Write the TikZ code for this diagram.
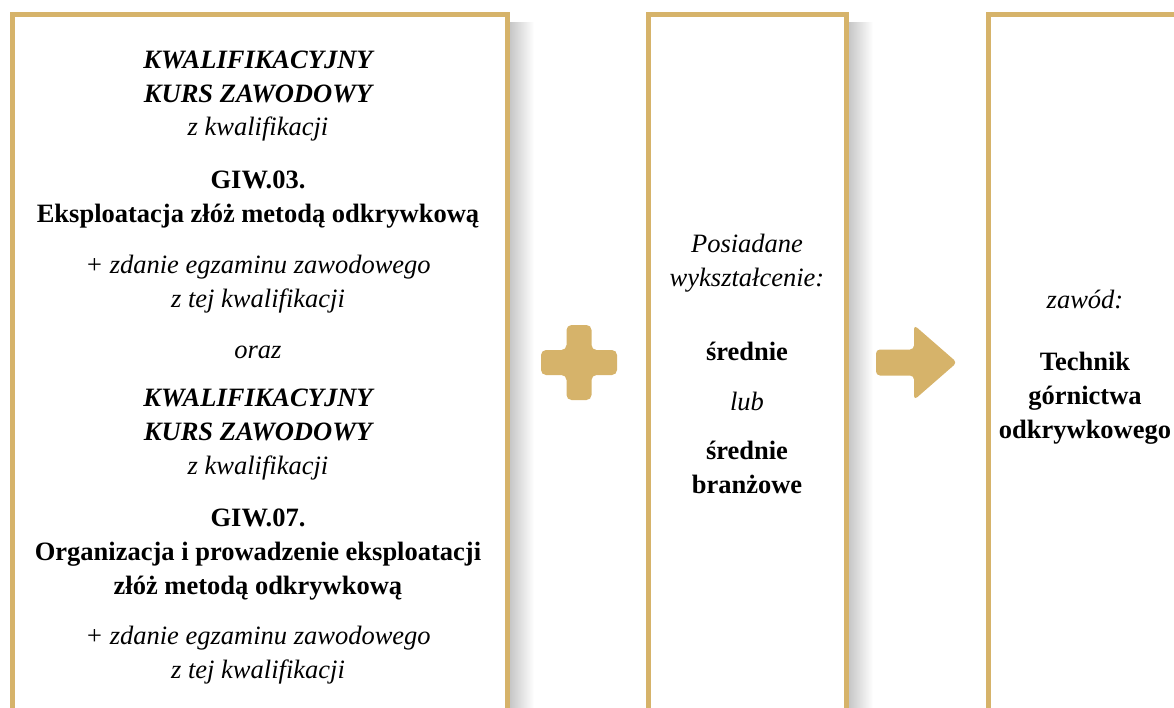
\documentclass[tikz,border=0pt]{standalone}
\usepackage{fontspec}
\setmainfont{Liberation Serif}
\usepackage{tikz}
\definecolor{zloty}{RGB}{214,179,106}
\newcommand{\rozmiar}{\fontsize{26.5}{34}\selectfont}

\begin{document}
\begin{tikzpicture}[x=1pt, y=-1pt,
  ramka/.style={draw=zloty, line width=5pt, fill=white},
  cien/.style={left color=black!22, right color=white, draw=none},
  tekst/.style={align=center, anchor=base, inner sep=0pt, font=\rozmiar\itshape},
  kurs/.style={tekst, font=\rozmiar\bfseries\itshape},
  nazwa/.style={tekst, font=\rozmiar\bfseries},
  znak/.style={fill=zloty, draw=none, rounded corners=5pt}]
  \useasboundingbox (0,0) rectangle (1174,707);
  % ramki z cieniem
  \shade[cien] (510,22) rectangle (534,707);
  \shade[cien] (849,22) rectangle (873,707);
  \draw[ramka] (12.5,14.5) rectangle (507.5,730);
  \draw[ramka] (648.5,14.5) rectangle (846.5,730);
  \draw[ramka] (988.5,14.5) rectangle (1200,730);
  % kwalifikacje (wspolrzedne = linia bazowa ostatniego wiersza)
  \node[kurs] (kurs1) at (258,102) {KWALIFIKACYJNY\\KURS ZAWODOWY};
  \node[tekst] (zkw1) at (258,135) {z kwalifikacji};
  \node[nazwa] (giw3) at (258,222) {GIW.03.\\Eksploatacja złóż metodą odkrywkową};
  \node[tekst] (egz1) at (258,307) {+ zdanie egzaminu zawodowego\\z tej kwalifikacji};
  \node[tekst] (oraz) at (258,358) {oraz};
  \node[kurs] (kurs2) at (258,440) {KWALIFIKACYJNY\\KURS ZAWODOWY};
  \node[tekst] (zkw2) at (258,474) {z kwalifikacji};
  \node[nazwa] (giw7) at (258,594)
    {GIW.07.\\Organizacja i prowadzenie eksploatacji\\złóż metodą odkrywkową};
  \node[tekst] (egz2) at (258,678) {+ zdanie egzaminu zawodowego\\z tej kwalifikacji};
  % wyksztalcenie
  \node[tekst] (posiad) at (747,286) {Posiadane\\wykształcenie:};
  \node[nazwa] (sred1) at (747,360) {średnie};
  \node[tekst] (lub) at (747,410) {lub};
  \node[nazwa] (sred2) at (747,493) {średnie\\branżowe};
  % zawod
  \node[tekst] (zawod) at (1085,308) {zawód:};
  \node[nazwa] (technik) at (1085,438) {Technik\\górnictwa\\odkrywkowego};
  % plus i strzalka
  \fill[znak] (566.5,325) -- (591.5,325) -- (591.5,350) -- (617,350) -- (617,375)
    -- (591.5,375) -- (591.5,400) -- (566.5,400) -- (566.5,375) -- (541,375)
    -- (541,350) -- (566.5,350) -- cycle;
  \fill[znak, rounded corners=4pt] (876,349.5) -- (914,349.5) -- (914,325) -- (957,362.5)
    -- (914,400) -- (914,375.5) -- (876,375.5) -- cycle;
\end{tikzpicture}
\end{document}
